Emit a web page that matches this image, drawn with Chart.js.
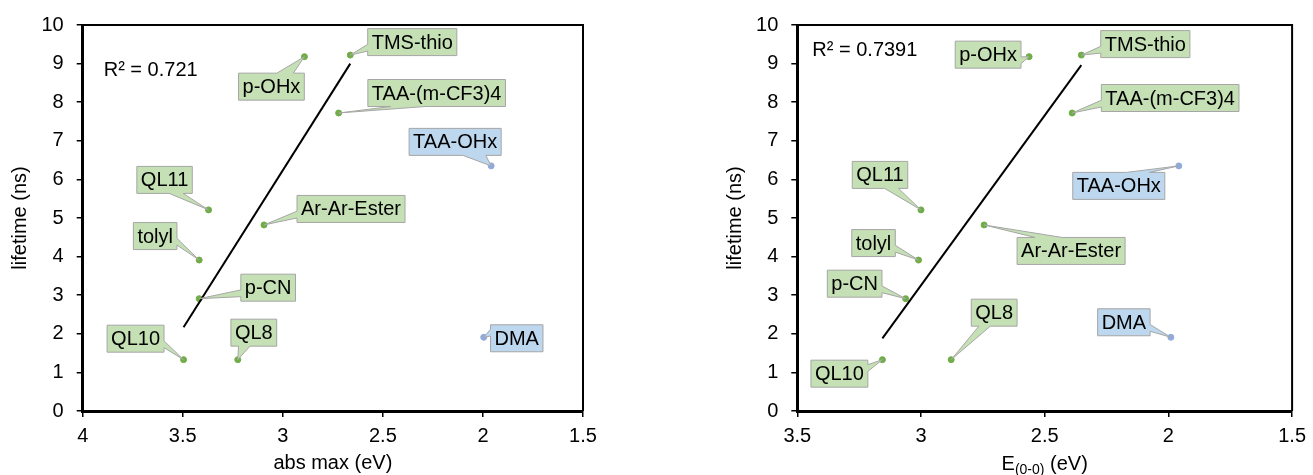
<!DOCTYPE html>
<html>
<head>
<meta charset="utf-8">
<script src="https://cdn.jsdelivr.net/npm/chart.js@4.4.1/dist/chart.umd.min.js"></script>
<style>
  html, body { margin: 0; padding: 0; background: #fff; }
  .box { position: absolute; top: 0; height: 475px; }
</style>
</head>
<body>
<div class="box" style="left:0;width:650px"><canvas id="chartAbs"></canvas></div>
<div class="box" style="left:650px;width:663px"><canvas id="chartE00"></canvas></div>
<script>
// data
const compounds = ['QL10', 'QL8', 'p-CN', 'tolyl', 'QL11', 'Ar-Ar-Ester', 'TAA-(m-CF3)4', 'p-OHx', 'TMS-thio', 'TAA-OHx', 'DMA'];
const inFit = [true, true, true, true, true, true, true, true, true, false, false];
const lifetime = [1.33, 1.33, 2.91, 3.91, 5.21, 4.82, 7.72, 9.18, 9.22, 6.35, 1.91];
const absMax = [3.496, 3.225, 3.418, 3.418, 3.371, 3.094, 2.721, 2.892, 2.663, 1.959, 1.996];
const e00 = [3.156, 2.878, 3.062, 3.010, 3.000, 2.745, 2.389, 2.563, 2.352, 1.958, 1.990];

const trendAbsX = [3.496, 2.663];
const trendAbsY = [2.17, 9.00];
const trendE00X = [3.156, 2.352];
const trendE00Y = [1.88, 8.96];

const r2Abs = 'R² = 0.721';
const r2E00 = 'R² = 0.7391';

// callout box centre relative to its point, px (layout only)
const calloutAbs = {
    'QL10': [-48, -21], 'QL8': [16, -27], 'p-CN': [69, -11], 'tolyl': [-44, -24],
    'QL11': [-44, -30], 'Ar-Ar-Ester': [87, -16], 'TAA-(m-CF3)4': [98, -20],
    'p-OHx': [-33, 30], 'TMS-thio': [62, -13], 'TAA-OHx': [-36, -24], 'DMA': [33, 1]
};
const calloutE00 = {
    'QL10': [-43, 14], 'QL8': [43, -47], 'p-CN': [-51, -15], 'tolyl': [-45, -17],
    'QL11': [-41, -35], 'Ar-Ar-Ester': [87, 26], 'TAA-(m-CF3)4': [98, -15],
    'p-OHx': [-41, -2], 'TMS-thio': [64, -11], 'TAA-OHx': [-60, 20], 'DMA': [-47, -15]
};

const FONT = "'Liberation Sans', Arial, sans-serif";
const GREEN = '#70ad47', GREEN_FILL = '#c5e0b4';
const BLUE = '#8faadc', BLUE_FILL = '#bdd7ee';

function pts(xs, ys, keep) {
    const out = [];
    xs.forEach((x, i) => { if (keep(i)) out.push({ x: x, y: ys[i], label: compounds[i] }); });
    return out;
}

function calloutPath(ctx, x, y, w, h, tx, ty) {
    const dx = tx - (x + w / 2), dy = ty - (y + h / 2);
    const vert = Math.abs(dy) > Math.abs(dx * h / w);
    ctx.beginPath();
    ctx.moveTo(x, y);
    if (vert && dy < 0) {
        ctx.lineTo(x + w * (dx > 0 ? 7 : 2) / 12, y); ctx.lineTo(tx, ty); ctx.lineTo(x + w * (dx > 0 ? 10 : 5) / 12, y);
    }
    ctx.lineTo(x + w, y);
    if (!vert && dx > 0) {
        ctx.lineTo(x + w, y + h * (dy > 0 ? 7 : 2) / 12); ctx.lineTo(tx, ty); ctx.lineTo(x + w, y + h * (dy > 0 ? 10 : 5) / 12);
    }
    ctx.lineTo(x + w, y + h);
    if (vert && dy > 0) {
        ctx.lineTo(x + w * (dx > 0 ? 10 : 5) / 12, y + h); ctx.lineTo(tx, ty); ctx.lineTo(x + w * (dx > 0 ? 7 : 2) / 12, y + h);
    }
    ctx.lineTo(x, y + h);
    if (!vert && dx < 0) {
        ctx.lineTo(x, y + h * (dy > 0 ? 10 : 5) / 12); ctx.lineTo(tx, ty); ctx.lineTo(x, y + h * (dy > 0 ? 7 : 2) / 12);
    }
    ctx.closePath();
}

const calloutPlugin = {
    id: 'callouts',
    afterDatasetsDraw(chart, args, opts) {
        const ctx = chart.ctx;
        ctx.save();
        ctx.font = '20px ' + FONT;
        ctx.textAlign = 'center';
        ctx.textBaseline = 'middle';
        chart.data.datasets.forEach((ds, di) => {
            if (!ds.fill_) return;
            const meta = chart.getDatasetMeta(di);
            meta.data.forEach((el, i) => {
                const name = ds.data[i].label;
                const off = opts.offsets[name];
                const w = ctx.measureText(name).width + 8, h = 27;
                const cx = el.x + off[0], cy = el.y + off[1];
                calloutPath(ctx, cx - w / 2, cy - h / 2, w, h, el.x, el.y);
                ctx.fillStyle = ds.fill_;
                ctx.fill();
                ctx.strokeStyle = '#a6a6a6';
                ctx.lineWidth = 1;
                ctx.stroke();
                ctx.fillStyle = '#000';
                ctx.fillText(name, cx, cy + 1);
            });
        });
        // plot frame on top/right
        const a = chart.chartArea;
        ctx.strokeStyle = '#000';
        ctx.lineWidth = 2;
        ctx.beginPath();
        ctx.moveTo(a.left, a.top); ctx.lineTo(a.right, a.top); ctx.lineTo(a.right, a.bottom);
        ctx.stroke();
        // R² text
        ctx.textAlign = 'left';
        ctx.textBaseline = 'alphabetic';
        ctx.fillText(opts.r2, a.left + opts.r2Pos[0], a.top + opts.r2Pos[1]);
        // subscripted x title
        if (opts.subTitle) {
            const parts = opts.subTitle;
            ctx.font = '20px ' + FONT;
            const w0 = ctx.measureText(parts[0]).width;
            const w2 = ctx.measureText(parts[2]).width;
            ctx.font = '14px ' + FONT;
            const w1 = ctx.measureText(parts[1]).width;
            let x = (a.left + a.right) / 2 - (w0 + w1 + w2) / 2;
            const base = 470;
            ctx.font = '20px ' + FONT;
            ctx.fillText(parts[0], x, base); x += w0;
            ctx.font = '14px ' + FONT;
            ctx.fillText(parts[1], x, base + 4); x += w1;
            ctx.font = '20px ' + FONT;
            ctx.fillText(parts[2], x, base);
        }
        ctx.restore();
    }
};

function makeChart(id, xs, tx, ty, xMax, xTitle, yLeftPad, yWidth, padRight, plug) {
    const tickFont = { size: 20, family: FONT };
    const titleFont = { size: 20, family: FONT };
    new Chart(document.getElementById(id), {
        type: 'scatter',
        data: {
            datasets: [
                {
                    data: [{ x: tx[0], y: ty[0] }, { x: tx[1], y: ty[1] }],
                    showLine: true, borderColor: '#000', borderWidth: 2, pointRadius: 0
                },
                {
                    data: pts(xs, lifetime, i => inFit[i]), fill_: GREEN_FILL,
                    backgroundColor: GREEN, borderColor: GREEN, pointRadius: 3
                },
                {
                    data: pts(xs, lifetime, i => !inFit[i]), fill_: BLUE_FILL,
                    backgroundColor: BLUE, borderColor: BLUE, pointRadius: 3
                }
            ]
        },
        options: {
            responsive: true,
            maintainAspectRatio: false,
            animation: false,
            layout: { padding: { left: yLeftPad, right: padRight, top: 22, bottom: 0 } },
            plugins: { legend: { display: false }, tooltip: { enabled: false }, callouts: plug },
            scales: {
                x: {
                    type: 'linear', reverse: true, min: 1.5, max: xMax,
                    ticks: { stepSize: 0.5, color: '#000', font: tickFont, padding: 7, maxRotation: 0,
                        callback: v => String(+v.toFixed(2)) },
                    grid: { drawOnChartArea: false, drawTicks: true, tickLength: 6, color: '#000', lineWidth: 1.5 },
                    border: { color: '#000', width: 3 },
                    title: { display: !!xTitle, text: xTitle, color: '#000', font: titleFont, padding: 0 },
                    afterFit(s) { s.height = 64; }
                },
                y: {
                    min: 0, max: 10,
                    ticks: { stepSize: 1, color: '#000', font: tickFont, padding: 13 },
                    grid: { drawOnChartArea: false, drawTicks: true, tickLength: 6, color: '#000', lineWidth: 1.5 },
                    border: { color: '#000', width: 3 },
                    title: { display: true, text: 'lifetime (ns)', color: '#000', font: titleFont, padding: 0 },
                    afterFit(s) { s.width = yWidth; }
                }
            }
        },
        plugins: [calloutPlugin]
    });
}

makeChart('chartAbs', absMax, trendAbsX, trendAbsY, 4, 'abs max (eV)', 8, 74.7, 67,
    { offsets: calloutAbs, r2: r2Abs, r2Pos: [21, 51] });
makeChart('chartE00', e00, trendE00X, trendE00Y, 3.5, '', 73, 74.3, 16.3,
    { offsets: calloutE00, r2: r2E00, r2Pos: [15, 31], subTitle: ['E', '(0-0)', ' (eV)'] });
</script>
</body>
</html>
